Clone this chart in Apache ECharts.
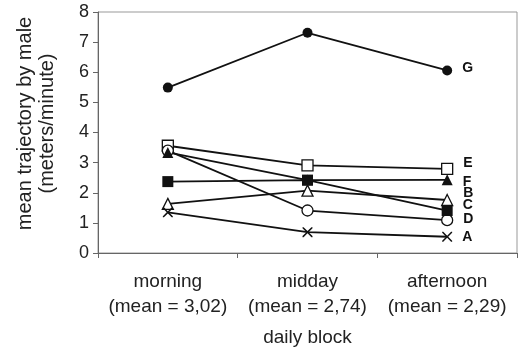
<!DOCTYPE html>
<html><head><meta charset="utf-8">
<script src="https://cdn.jsdelivr.net/npm/echarts@6/dist/echarts.min.js"></script>
<style>html,body{margin:0;padding:0;background:#fff}#c{width:522px;height:353px}</style>
</head><body><div id="c"></div>
<script>
const categories = ['morning\n(mean = 3,02)', 'midday\n(mean = 2,74)', 'afternoon\n(mean = 2,29)'];
const yTicks = [0, 1, 2, 3, 4, 5, 6, 7, 8];
const seriesNames = ['G', 'E', 'D', 'B', 'A', 'C', 'F'];
const G = [5.49, 7.31, 6.06];
const E = [3.56, 2.91, 2.79];
const F = [3.34, 2.42, 2.43];
const C = [2.37, 2.42, 1.41];
const D = [3.40, 1.41, 1.09];
const B = [1.63, 2.07, 1.76];
const A = [1.35, 0.69, 0.54];
const values = {G, E, F, C, D, B, A};

const X_PATH = 'path://M0,0 L2.2,0 L10,7.8 L17.8,0 L20,0 L20,2.2 L12.2,10 L20,17.8 L20,20 L17.8,20 L10,12.2 L2.2,20 L0,20 L0,17.8 L7.8,10 L0,2.2 Z';
const style = {
  G: {symbol: 'circle', size: 10, fill: '#111', off: [0, -2]},
  E: {symbol: 'rect', size: 11, fill: '#fff', off: [0, -6]},
  F: {symbol: 'triangle', size: 11, fill: '#111', off: [0, 2]},
  C: {symbol: 'rect', size: 11, fill: '#111', off: [0, -5]},
  D: {symbol: 'circle', size: 11, fill: '#fff', off: [0, -1]},
  B: {symbol: 'triangle', size: 11, fill: '#fff', off: [0, -7]},
  A: {symbol: X_PATH, size: 10, fill: '#111', off: [0, 0]}
};

const series = seriesNames.map(n => {
  const s = style[n];
  const open = s.fill === '#fff';
  return {
    name: n, type: 'line', data: values[n],
    symbol: s.symbol, symbolSize: s.size, showAllSymbol: true,
    lineStyle: {color: '#111', width: 1.8},
    itemStyle: {color: s.fill, borderColor: '#111', borderWidth: open ? 1.3 : 0},
    label: {
      show: true, position: 'right', distance: 10, offset: s.off,
      formatter: p => p.dataIndex === values[n].length - 1 ? n : '',
      color: '#111', fontFamily: 'Liberation Sans', fontWeight: 'bold', fontSize: 14
    },
    animation: false
  };
});

const chart = echarts.init(document.getElementById('c'));
chart.setOption({
  animation: false,
  grid: {left: 98, right: 5, top: 12, bottom: 100, outerBoundsMode: 'none', containLabel: false,
         show: true, borderColor: '#999', borderWidth: 1},
  xAxis: {
    type: 'category', data: categories, boundaryGap: true,
    name: 'daily block', nameLocation: 'middle', nameGap: 75, nameMoveOverlap: false,
    nameTextStyle: {fontFamily: 'Liberation Sans', fontSize: 19, color: '#222'},
    axisLine: {lineStyle: {color: '#666', width: 1}},
    axisTick: {show: true, length: 5, lineStyle: {color: '#666'}},
    axisLabel: {interval: 0, margin: 16, lineHeight: 25, fontFamily: 'Liberation Sans', fontSize: 19, color: '#222'},
    splitLine: {show: false}
  },
  yAxis: {
    type: 'value', min: yTicks[0], max: yTicks[yTicks.length - 1], interval: 1,
    name: 'mean trajectory by male\n(meters/minute)', nameLocation: 'middle', nameGap: 40, nameRotate: 90,
    nameMoveOverlap: false,
    nameTextStyle: {fontFamily: 'Liberation Sans', fontSize: 20, lineHeight: 22, color: '#222', padding: [0, 0, 0, 18]},
    axisLine: {show: true, lineStyle: {color: '#666', width: 1}},
    axisTick: {show: true, length: 5, lineStyle: {color: '#666'}},
    axisLabel: {margin: 9, fontFamily: 'Liberation Sans', fontSize: 18, color: '#222'},
    splitLine: {show: false}
  },
  series: series
});
</script></body></html>
